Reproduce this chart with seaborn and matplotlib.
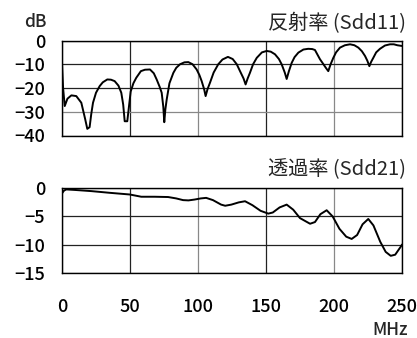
import numpy as np
import pandas as pd
import matplotlib
matplotlib.use("Agg")
import matplotlib.pyplot as plt
import seaborn as sns

# Sdd11 (reflection)
s11_freq = [0, 0.8, 2, 4, 6.9, 10.5, 14.2, 17, 18.6, 20.3, 21.5, 22.8, 25, 27.7, 30, 33.3,
            36, 38.7, 41.5, 43.6, 45, 46.1, 48, 49.2, 50.5, 52.5, 54.6, 58, 61, 64.7,
            67.5, 69.6, 71.8, 73.3, 74.5, 75.2, 76, 77, 79, 81.9, 84, 86.8, 90, 92.9,
            96, 99, 101, 102.7, 104.5, 105.6, 107, 108.8, 111.5, 114.9, 118, 122,
            125.5, 128.5, 130.9, 133.5, 135, 136.5, 138.2, 140.5, 143.2, 147, 150.5,
            153.5, 156.6, 159.5, 161.5, 163.8, 165.2, 166.8, 168.9, 171, 173.8, 177.5,
            181, 184, 186, 189.7, 192, 194, 195.8, 197.5, 199.5, 201.5, 204.4, 208,
            211.8, 215, 217.9, 220.5, 222.8, 224.5, 226, 227.3, 228.9, 231, 233.8,
            237.5, 241.2, 244, 246.6, 250]
s11_db = [-9.8, -20, -27.6, -24.5, -23.1, -23.4, -26.2, -33, -37.2, -36.5, -31, -26.2,
          -22, -19.2, -17.6, -16.4, -16.5, -17.1, -19, -22.0, -27, -34.0, -34, -28,
          -21.5, -18, -15.7, -12.9, -12.3, -12.2, -13.8, -16.4, -19.5, -22, -28, -34.4,
          -29, -24.8, -18, -13.6, -11.5, -10, -9.2, -9.1, -10, -12.2, -14.5, -17.1, -20.5,
          -23.4, -20.5, -17.8, -13.5, -10, -8.0, -6.9, -7.8, -10, -12.9, -16, -18.5,
          -16, -13.6, -10, -7.3, -5.0, -4.4, -4.7, -5.8, -7.8, -10, -13.5, -16.2, -13,
          -9.4, -7, -5.1, -3.8, -3.5, -3.6, -4.0, -7.9, -9.8, -11.5, -12.9, -10, -7.3,
          -5, -3.0, -2.0, -1.6, -2.0, -3.0, -4.5, -6.5, -8.5, -10.8, -9, -7.3, -5,
          -3.5, -2.1, -1.6, -1.6, -2.0, -2.3]

# Sdd21 (transmission)
s21_freq = [0, 1.5, 3.2, 10, 21.6, 35, 49.8, 58.3, 68, 78, 84, 89, 93, 97.5, 102, 106,
            111, 117, 120, 124.5, 130, 134.6, 140, 146, 151.7, 155, 160, 165.2, 170,
            175, 182.4, 186, 190, 194.6, 199, 204, 209, 213, 217, 221, 225.2, 229, 234,
            238, 241.7, 245, 249.3, 250]
s21_db = [-0.9, -0.4, -0.2, -0.3, -0.5, -0.8, -1.1, -1.5, -1.5, -1.55, -1.8, -2.1,
          -2.15, -2.0, -1.8, -1.7, -2.1, -2.9, -3.1, -2.9, -2.5, -2.3, -3.0, -4.0, -4.5,
          -4.3, -3.4, -2.9, -3.8, -5.3, -6.3, -6.0, -4.6, -3.9, -5.0, -7.2, -8.6, -9.0,
          -8.3, -6.4, -5.45, -6.6, -9.5, -11.3, -12.0, -11.8, -10.3, -10.0]

x_ticks = [0, 50, 100, 150, 200, 250]

sns.set_style("white")
plt.rcParams["font.family"] = ["Noto Sans CJK JP", "DejaVu Sans"]

fig = plt.figure(figsize=(4.17, 3.38), dpi=100)
ax1 = fig.add_axes([62 / 417, 1 - 135.5 / 338, 340 / 417, 95 / 338])
ax2 = fig.add_axes([62 / 417, 1 - 272.7 / 338, 340 / 417, 84.4 / 338])

df11 = pd.DataFrame({"freq": s11_freq, "db": s11_db})
df21 = pd.DataFrame({"freq": s21_freq, "db": s21_db})
sns.lineplot(data=df11, x="freq", y="db", ax=ax1, color="black", lw=1.4)
sns.lineplot(data=df21, x="freq", y="db", ax=ax2, color="black", lw=1.4)

for ax, yt, ylim in ((ax1, [0, -10, -20, -30, -40], (-40, 0)),
                     (ax2, [0, -5, -10, -15], (-15, 0))):
    ax.set_xlim(0, 250)
    ax.set_ylim(*ylim)
    ax.set_xticks(x_ticks)
    ax.set_yticks(yt)
    ax.grid(True, color="#222222", lw=0.9)
    ax.set_xlabel("")
    ax.set_ylabel("")
    for s in ax.spines.values():
        s.set_color("black")
        s.set_linewidth(1.0)
    ax.tick_params(axis="both", length=0, labelsize=13, colors="black")
    ax.tick_params(axis="y", pad=12)
    for lab in ax.get_xticklabels() + ax.get_yticklabels():
        lab.set_fontweight("medium")
    # the 100 and 200 MHz lines are lighter in the original
    for i in (2, 4):
        ax.get_xgridlines()[i].set_color("#888888")

ax1.get_ygridlines()[3].set_color("#888888")
ax1.tick_params(axis="x", labelbottom=False)
ax2.tick_params(axis="x", pad=18)

fig.text(406 / 417, 1 - 23.5 / 338, "反射率 (Sdd11)", ha="right", va="center",
         fontsize=14.5)
fig.text(406 / 417, 1 - 170 / 338, "透過率 (Sdd21)", ha="right", va="center",
         fontsize=14.5)
fig.text(47 / 417, 1 - 22 / 338, "dB", ha="right", va="center", fontsize=12.5,
         fontweight="medium")
fig.text(408 / 417, 1 - 330 / 338, "MHz", ha="right", va="center", fontsize=12.5,
         fontweight="medium")

fig.savefig("out.png", dpi=100)
